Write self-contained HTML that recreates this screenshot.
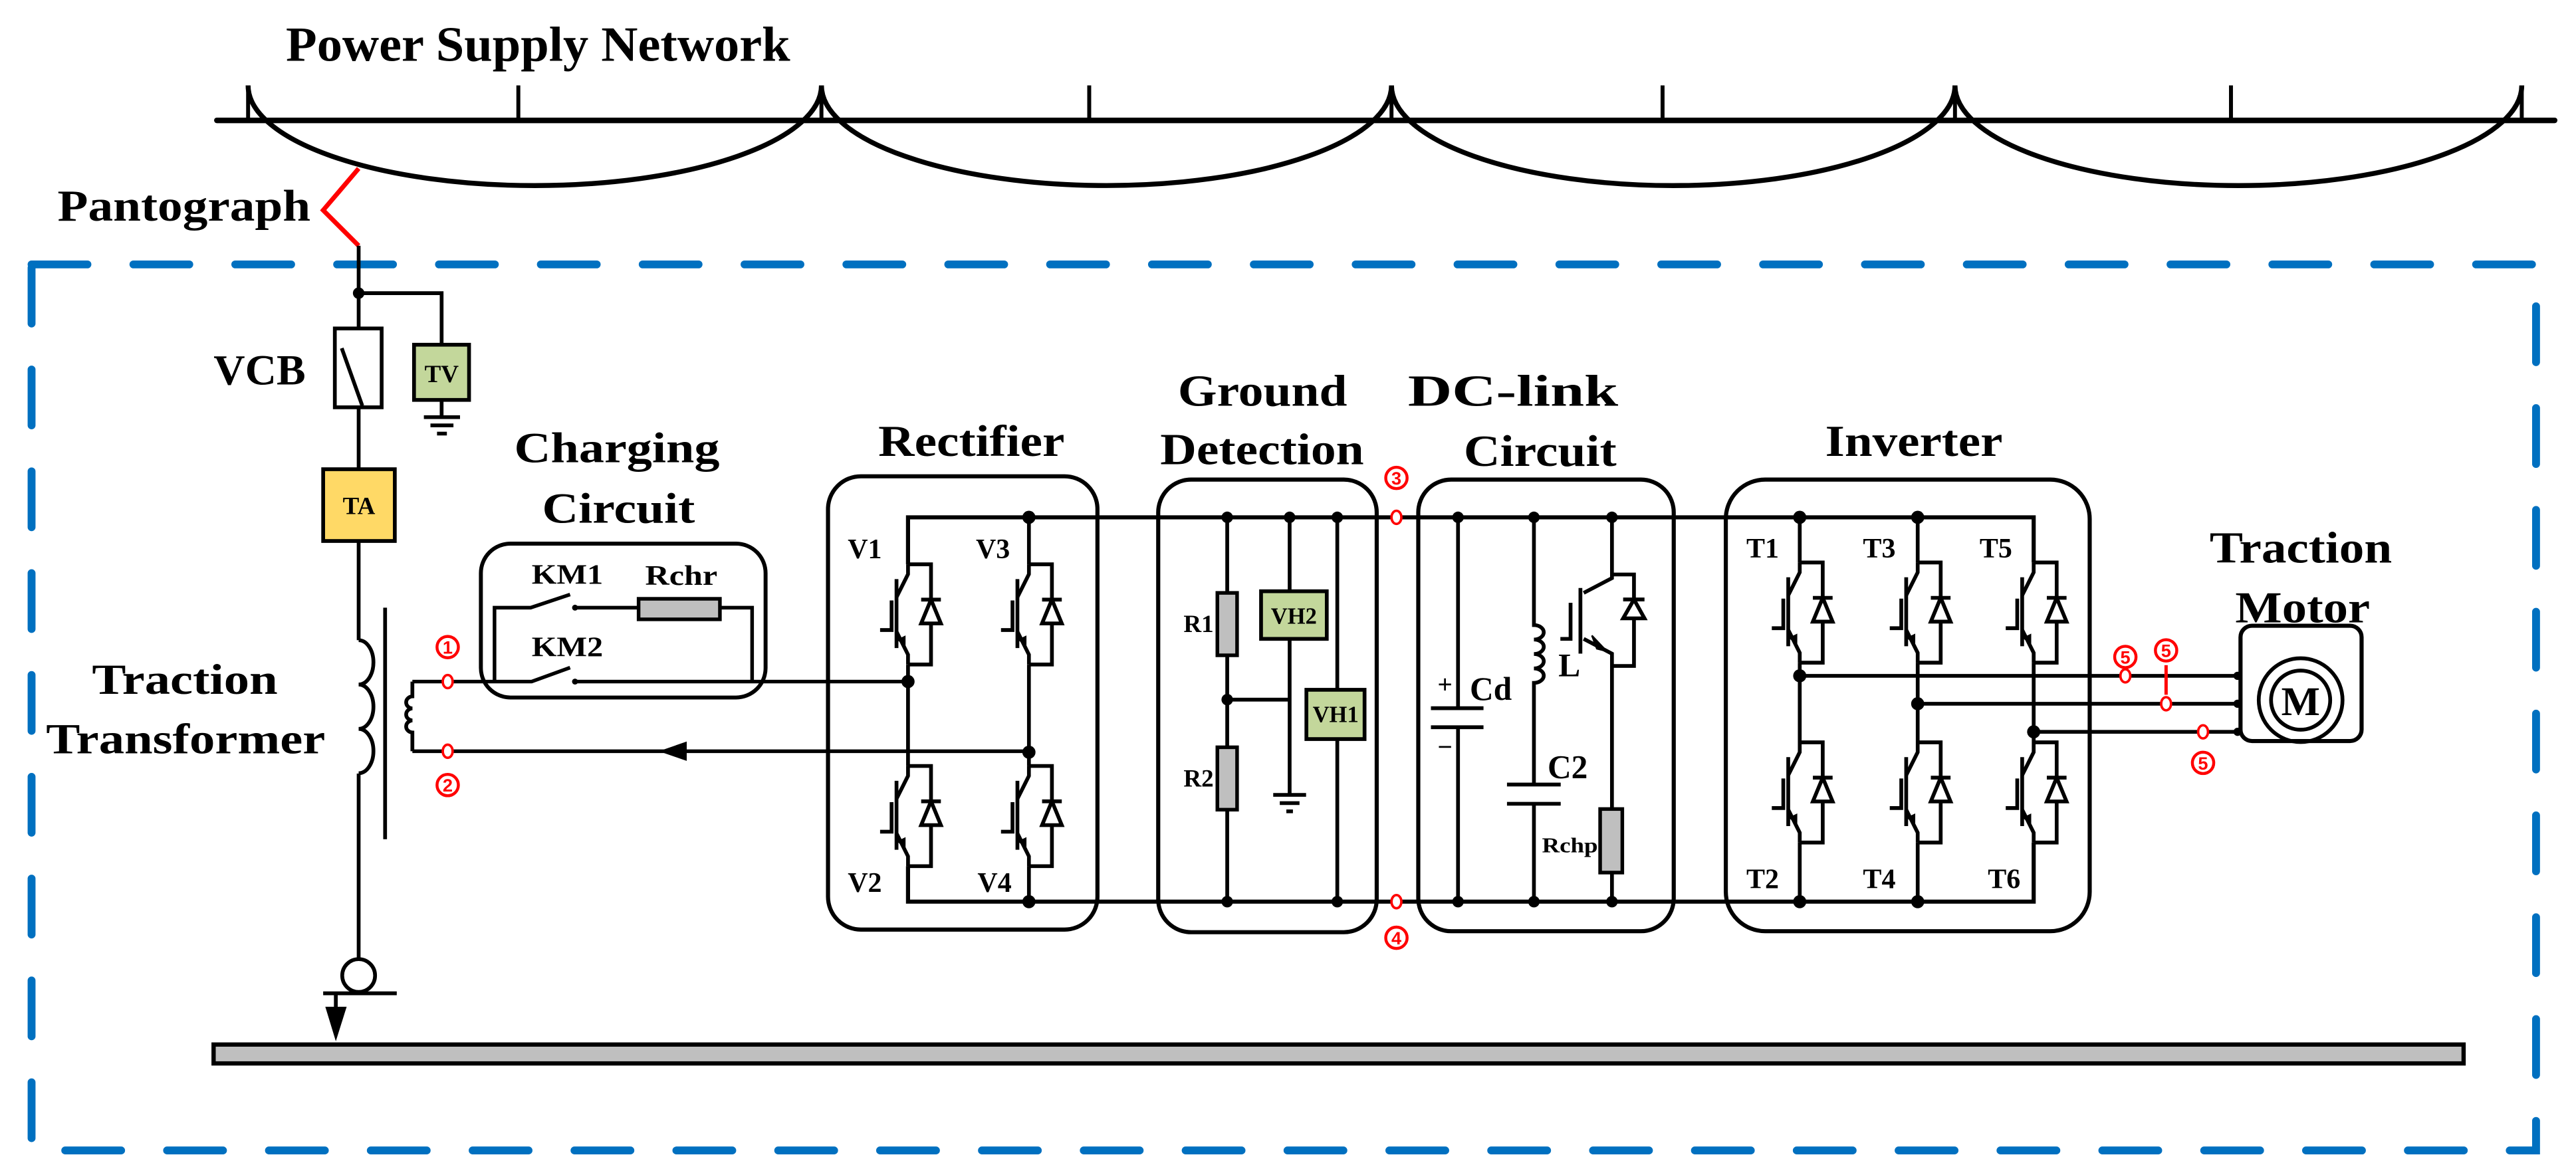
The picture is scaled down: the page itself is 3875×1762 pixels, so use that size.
<!DOCTYPE html>
<html><head><meta charset="utf-8"><style>
html,body{margin:0;padding:0;background:#fff}
svg{display:block}
text{font-family:"Liberation Serif",serif;font-weight:bold;fill:#000}
.cn{font-family:"Liberation Sans",sans-serif;font-weight:bold;fill:#f00;font-size:11px}
.cc{fill:#fff;stroke:#f00;stroke-width:1.8}
</style></head><body>
<svg width="3875" height="1762" viewBox="0 0 1568 713" xmlns="http://www.w3.org/2000/svg">
<defs>
<g id="ig" fill="none" stroke="#000" stroke-width="2.3">
<path d="M0,0 V6 L-7,20"/>
<path d="M-7,9 V51"/>
<path d="M-7,41 L0,55 V61"/>
<path d="M-10,22 V40 H-17"/>
<path d="M0,0 H14 V61 H0"/>
<path d="M8,21.5 H20"/>
<path d="M14,21.5 L8,36 H20 Z" fill="#fff"/>
<polygon points="-1.5,50 -1.5,43.3 -6.9,45.9" fill="#000" stroke="none"/>
</g>
</defs>
<rect width="1568" height="713" fill="#fff"/>

<rect x="19.2" y="161" width="1524.5" height="539.5" fill="none" stroke="#0070c0" stroke-width="4.8" stroke-dasharray="34 28" stroke-linecap="round"/>

<g fill="none" stroke="#000">
<line x1="132" y1="73.3" x2="1555" y2="73.3" stroke-width="3.4" stroke-linecap="round"/>
<g stroke-width="2.4">
<path d="M151,52V73M315.5,52V73M500,52V73M663,52V73M847,52V73M1012,52V73M1190,52V73M1358,52V73M1535,52V73"/>
</g>
<g stroke-width="3">
<path d="M151,52 A174.5,61 0 0 0 500,52"/>
<path d="M500,52 A173.5,61 0 0 0 847,52"/>
<path d="M847,52 A171.5,61 0 0 0 1190,52"/>
<path d="M1190,52 A172.5,61 0 0 0 1535,52"/>
</g>
</g>
<text x="174" y="37" font-size="30" textLength="307" lengthAdjust="spacingAndGlyphs">Power Supply Network</text>

<polyline points="218.3,102.6 196.7,128 218.3,149.6" fill="none" stroke="#f00" stroke-width="2.8"/>
<text x="35" y="134.4" font-size="27" textLength="154" lengthAdjust="spacingAndGlyphs">Pantograph</text>

<g fill="none" stroke="#000" stroke-width="2.3">
<path d="M218.3,149.6V200"/>
<rect x="203.8" y="200" width="28.5" height="48" fill="#fff"/>
<path d="M208,212 L220.5,247"/>
<path d="M218.3,248V285.7"/>
<path d="M218.3,329.4V389.8"/>
<path d="M218.3,389.8 a9,13.5 0 0 1 0,27 a9,13.5 0 0 1 0,27 a9,13.5 0 0 1 0,27"/>
<path d="M218.3,471V584.6"/>
<circle cx="218.3" cy="594" r="10"/>
<path d="M196.7,604.8H241.5"/>
<path d="M204.4,604.8V615"/>
<path d="M234.4,370V511"/>
<path d="M218.3,178.5H268.8V209.9"/>
<path d="M268.8,243.5V254M258,254H280M262,259H276M266,264H272"/>
<path d="M251,415V424 a4,3.67 0 0 0 0,7.33 a4,3.67 0 0 0 0,7.33 a4,3.67 0 0 0 0,7.33 V457.4"/>
</g>
<polygon points="198,613 211,613 204.4,634" fill="#000"/>
<circle cx="218.3" cy="178.5" r="3.5" fill="#000"/>
<rect x="252" y="209.9" width="33.5" height="33.6" fill="#c3d79b" stroke="#000" stroke-width="2.3"/>
<text x="268.8" y="232.7" font-size="15" text-anchor="middle">TV</text>
<rect x="196.7" y="285.7" width="43.6" height="43.7" fill="#ffd966" stroke="#000" stroke-width="2.3"/>
<text x="218.5" y="312.9" font-size="15" text-anchor="middle">TA</text>
<text x="130" y="234" font-size="26" textLength="56" lengthAdjust="spacingAndGlyphs">VCB</text>
<text x="56" y="422.4" font-size="26" textLength="113" lengthAdjust="spacingAndGlyphs">Traction</text>
<text x="28" y="458.6" font-size="26" textLength="170" lengthAdjust="spacingAndGlyphs">Transformer</text>

<rect x="130" y="636" width="1369.6" height="11.5" fill="#bfbfbf" stroke="#000" stroke-width="2.6"/>

<rect x="292.7" y="331" width="173.3" height="93.7" rx="18" fill="none" stroke="#000" stroke-width="2.4"/>
<g fill="none" stroke="#000" stroke-width="2.2">
<path d="M301,415V370H323L347,362"/>
<path d="M350,370H388.7"/>
<path d="M438.2,370H457.8V415"/>
<path d="M251,415H323.6L347,406.5"/>
<path d="M350,415H552.7"/>
<path d="M251,457.4H626.3"/>
</g>
<circle cx="350" cy="370" r="1.8" fill="#000"/>
<circle cx="350" cy="415" r="1.8" fill="#000"/>
<polygon points="401,457.4 418,451.5 418,463.3" fill="#000"/>
<rect x="388.7" y="364.6" width="49.5" height="12.5" fill="#bfbfbf" stroke="#000" stroke-width="2.2"/>
<text x="323.6" y="355.5" font-size="17" textLength="43.5" lengthAdjust="spacingAndGlyphs">KM1</text>
<text x="392.7" y="356" font-size="17" textLength="44" lengthAdjust="spacingAndGlyphs">Rchr</text>
<text x="323.6" y="399.6" font-size="17" textLength="43.5" lengthAdjust="spacingAndGlyphs">KM2</text>
<text x="313" y="281.4" font-size="26" textLength="125" lengthAdjust="spacingAndGlyphs">Charging</text>
<text x="330" y="318.3" font-size="26" textLength="93" lengthAdjust="spacingAndGlyphs">Circuit</text>
<ellipse cx="272.5" cy="415" rx="3" ry="4" fill="#fff" stroke="#f00" stroke-width="1.5"/>
<ellipse cx="272.5" cy="457.4" rx="3" ry="4" fill="#fff" stroke="#f00" stroke-width="1.5"/>
<circle class="cc" cx="272.5" cy="394" r="6.5"/><text class="cn" x="272.5" y="398" text-anchor="middle">1</text>
<circle class="cc" cx="272.5" cy="478" r="6.5"/><text class="cn" x="272.5" y="482" text-anchor="middle">2</text>

<g fill="none" stroke="#000" stroke-width="2.5">
<path d="M552.7,343.6V315H1237.9V342.5"/>
<path d="M552.7,527.4V549H1237.9V513"/>
</g>

<rect x="504" y="290" width="164" height="276" rx="20" fill="none" stroke="#000" stroke-width="2.5"/>
<g fill="none" stroke="#000" stroke-width="2.3">
<path d="M552.7,404.7V466.4"/>
<path d="M626.3,315V343.6M626.3,404.7V466.4M626.3,527.4V549"/>
</g>
<use href="#ig" x="552.7" y="343.6"/>
<use href="#ig" x="552.7" y="466.4"/>
<use href="#ig" x="626.3" y="343.6"/>
<use href="#ig" x="626.3" y="466.4"/>
<g fill="#000">
<circle cx="626.3" cy="315" r="4"/><circle cx="552.7" cy="415" r="4"/>
<circle cx="626.3" cy="458" r="4"/><circle cx="626.3" cy="549" r="4"/>
</g>
<text x="516" y="340" font-size="17">V1</text>
<text x="594" y="340" font-size="17">V3</text>
<text x="516" y="543" font-size="17">V2</text>
<text x="595" y="543" font-size="17">V4</text>
<text x="534.6" y="277.5" font-size="27" textLength="113.4" lengthAdjust="spacingAndGlyphs">Rectifier</text>

<rect x="705" y="292" width="133" height="275.6" rx="20" fill="none" stroke="#000" stroke-width="2.5"/>
<g fill="none" stroke="#000" stroke-width="2.3">
<path d="M747,315V361M747,399V455M747,493V549M747,426H785"/>
<path d="M785,315V360M785,389V484M775,484H795M779,489H791M783,494H787"/>
<path d="M814,315V420M814,450V549"/>
</g>
<rect x="741" y="361" width="12" height="38" fill="#bfbfbf" stroke="#000" stroke-width="2.2"/>
<rect x="741" y="455" width="12" height="38" fill="#bfbfbf" stroke="#000" stroke-width="2.2"/>
<rect x="767.6" y="360" width="40" height="29" fill="#c3d79b" stroke="#000" stroke-width="2.3"/>
<rect x="795.2" y="420" width="35.4" height="30" fill="#c3d79b" stroke="#000" stroke-width="2.3"/>
<text x="787.6" y="379.7" font-size="14" text-anchor="middle">VH2</text>
<text x="813" y="439.6" font-size="14" text-anchor="middle">VH1</text>
<text x="720.4" y="384.9" font-size="15">R1</text>
<text x="720.4" y="478.9" font-size="15">R2</text>
<g fill="#000">
<circle cx="747" cy="315" r="3.5"/><circle cx="785" cy="315" r="3.5"/><circle cx="814" cy="315" r="3.5"/>
<circle cx="747" cy="549" r="3.5"/><circle cx="814" cy="549" r="3.5"/><circle cx="747" cy="426" r="3.5"/>
</g>
<text x="717" y="247" font-size="27" textLength="103" lengthAdjust="spacingAndGlyphs">Ground</text>
<text x="706.2" y="282.7" font-size="27" textLength="124" lengthAdjust="spacingAndGlyphs">Detection</text>
<ellipse cx="850" cy="315" rx="3" ry="4" fill="#fff" stroke="#f00" stroke-width="1.5"/>
<ellipse cx="850" cy="549" rx="3" ry="4" fill="#fff" stroke="#f00" stroke-width="1.5"/>
<circle class="cc" cx="850" cy="291" r="6.5"/><text class="cn" x="850" y="295" text-anchor="middle">3</text>
<circle class="cc" cx="850" cy="571" r="6.5"/><text class="cn" x="850" y="575" text-anchor="middle">4</text>

<rect x="863.3" y="292" width="155.5" height="275" rx="20" fill="none" stroke="#000" stroke-width="2.5"/>
<g fill="none" stroke="#000" stroke-width="2.3">
<path d="M887.5,315V431.2M871,431.2H903M871,442.8H903M887.5,442.8V549"/>
<path d="M933.7,315V380.6 a6,4.4 0 0 1 0,8.8 a6,4.4 0 0 1 0,8.8 a6,4.4 0 0 1 0,8.8 a6,4.4 0 0 1 0,8.8 V477.7M917.3,477.7H950M917.3,489.4H950M933.7,489.4V549"/>
<path d="M981.2,315V352 L964,361"/>
<path d="M962,358V398"/>
<path d="M964,389 L981.2,398 V492.6M981.2,531.3V549"/>
<path d="M956,367V389H949.8"/>
<path d="M981.2,349.8H994.6V405.5H981.2"/>
<path d="M988,365H1001"/>
<path d="M994.6,365 L988,376.5H1001Z" fill="#fff"/>
</g>
<polygon points="978,396.5 969,387 972,395" fill="#000" stroke="#000" stroke-width="1"/>
<rect x="974" y="492.6" width="13.5" height="38.7" fill="#bfbfbf" stroke="#000" stroke-width="2.2"/>
<g fill="#000">
<circle cx="887.5" cy="315" r="3.5"/><circle cx="933.7" cy="315" r="3.5"/><circle cx="981.2" cy="315" r="3.5"/>
<circle cx="887.5" cy="549" r="3.5"/><circle cx="933.7" cy="549" r="3.5"/><circle cx="981.2" cy="549" r="3.5"/>
</g>
<text x="875" y="422" font-size="16" font-weight="normal">+</text>
<text x="875" y="460" font-size="16" font-weight="normal">−</text>
<text x="894.7" y="426" font-size="20">Cd</text>
<text x="948.6" y="411.7" font-size="20">L</text>
<text x="942" y="473.6" font-size="20">C2</text>
<text x="938.6" y="519" font-size="13" textLength="34" lengthAdjust="spacingAndGlyphs">Rchp</text>
<text x="857" y="247" font-size="27" textLength="128" lengthAdjust="spacingAndGlyphs">DC-link</text>
<text x="891" y="283.7" font-size="27" textLength="93" lengthAdjust="spacingAndGlyphs">Circuit</text>

<rect x="1050.5" y="292" width="221.5" height="275" rx="24" fill="none" stroke="#000" stroke-width="2.5"/>
<g fill="none" stroke="#000" stroke-width="2.3">
<path d="M1095.5,315V342.5M1095.5,403.5V452M1095.5,513V549"/>
<path d="M1167.3,315V342.5M1167.3,403.5V452M1167.3,513V549"/>
<path d="M1237.9,403.5V452"/>
<path d="M1095.5,411.5H1361.8M1167.3,428.5H1361.8M1237.9,445.6H1361.8"/>
</g>
<use href="#ig" x="1095.5" y="342.5"/>
<use href="#ig" x="1095.5" y="452"/>
<use href="#ig" x="1167.3" y="342.5"/>
<use href="#ig" x="1167.3" y="452"/>
<use href="#ig" x="1237.9" y="342.5"/>
<use href="#ig" x="1237.9" y="452"/>
<g fill="#000">
<circle cx="1095.5" cy="315" r="4"/><circle cx="1167.3" cy="315" r="4"/>
<circle cx="1095.5" cy="549" r="4"/><circle cx="1167.3" cy="549" r="4"/>
<circle cx="1095.5" cy="411.5" r="4"/><circle cx="1167.3" cy="428.5" r="4"/><circle cx="1237.9" cy="445.6" r="4"/>
<circle cx="1362" cy="411.5" r="2.5"/><circle cx="1362" cy="428.5" r="2.5"/><circle cx="1362" cy="445.6" r="2.5"/>
</g>
<text x="1063" y="339.5" font-size="17">T1</text>
<text x="1134" y="339.5" font-size="17">T3</text>
<text x="1205" y="339.5" font-size="17">T5</text>
<text x="1063" y="540.8" font-size="17">T2</text>
<text x="1134" y="540.8" font-size="17">T4</text>
<text x="1210" y="540.8" font-size="17">T6</text>
<text x="1111" y="277.5" font-size="27" textLength="108" lengthAdjust="spacingAndGlyphs">Inverter</text>

<line x1="1318.5" y1="405" x2="1318.5" y2="423" stroke="#f00" stroke-width="2"/>
<ellipse cx="1293.7" cy="411.5" rx="3" ry="4" fill="#fff" stroke="#f00" stroke-width="1.5"/>
<ellipse cx="1318.5" cy="428.5" rx="3" ry="4" fill="#fff" stroke="#f00" stroke-width="1.5"/>
<ellipse cx="1341" cy="445.6" rx="3" ry="4" fill="#fff" stroke="#f00" stroke-width="1.5"/>
<circle class="cc" cx="1293.7" cy="400" r="6.5"/><text class="cn" x="1293.7" y="404" text-anchor="middle">5</text>
<circle class="cc" cx="1318.5" cy="396" r="6.5"/><text class="cn" x="1318.5" y="400" text-anchor="middle">5</text>
<circle class="cc" cx="1341" cy="464.5" r="6.5"/><text class="cn" x="1341" y="468.5" text-anchor="middle">5</text>

<rect x="1363.8" y="381" width="73.7" height="70.2" rx="7" fill="none" stroke="#000" stroke-width="2.5"/>
<circle cx="1400.4" cy="426.3" r="25.5" fill="none" stroke="#000" stroke-width="2.3"/>
<circle cx="1400.4" cy="426.3" r="18" fill="none" stroke="#000" stroke-width="2.3"/>
<text x="1400.4" y="435.5" font-size="25" font-weight="normal" text-anchor="middle">M</text>
<text x="1345" y="342.5" font-size="27" textLength="111" lengthAdjust="spacingAndGlyphs">Traction</text>
<text x="1360.6" y="379" font-size="27" textLength="82" lengthAdjust="spacingAndGlyphs">Motor</text>
</svg>
</body></html>
